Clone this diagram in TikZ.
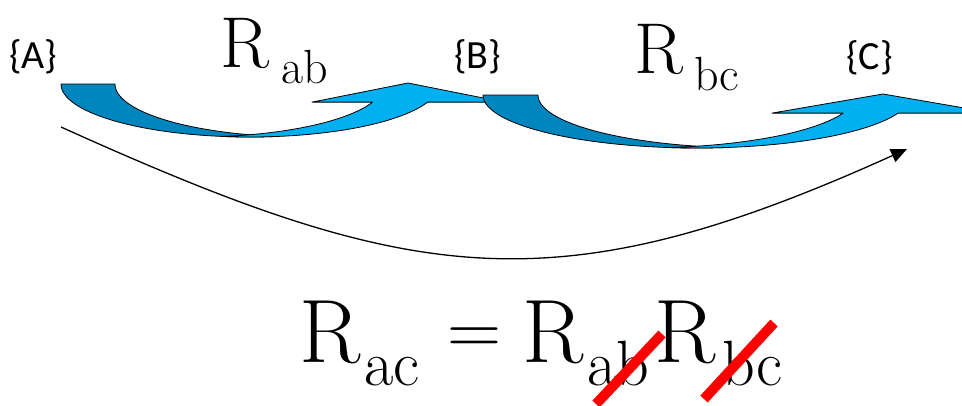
\documentclass[tikz,border=0pt]{standalone}
\usepackage{fontspec}
\newfontfamily\calfont{Carlito}
\newcommand\timesfont{\rmfamily\addfontfeature{FakeBold=1.2}}
\usetikzlibrary{arrows.meta}
\definecolor{darkblue}{RGB}{0,134,190}
\definecolor{lightblue}{RGB}{0,176,240}
\begin{document}
\begin{tikzpicture}[x=1pt,y=-1pt,
  setlbl/.style={font=\calfont\fontsize{40}{42}\selectfont, anchor=base west, inner sep=0pt},
  bigR/.style={font=\fontsize{72}{72}\selectfont\timesfont, anchor=base west, inner sep=0pt},
  subR/.style={font=\fontsize{48}{48}\selectfont\timesfont, anchor=base west, inner sep=0pt},
  eqR/.style={font=\fontsize{90}{90}\selectfont\timesfont, anchor=base west, inner sep=0pt},
  eqsign/.style={font=\fontsize{75}{75}\selectfont\timesfont, anchor=base west, inner sep=0pt},
  eqsub/.style={font=\fontsize{64}{64}\selectfont\timesfont, anchor=base west, inner sep=0pt},
  band/.style={draw=black, line width=0.8pt, line join=round},
  strike/.style={draw=red, line width=10pt},
  link/.style={draw=black, line width=1.3pt, -{Triangle[length=16pt,width=14pt]}}]
\useasboundingbox (0,0) rectangle (962,405);

% set labels
\node[setlbl] (A) at (9,68) {\{A\}};
\node[setlbl] (B) at (454,68) {\{B\}};
\node[setlbl] (C) at (846,69) {\{C\}};

% relation labels
\node[bigR] (Rab) at (220,67) {R};
\node[subR] (Rabs) at (281,83) {ab};
\node[bigR] (Rbc) at (634,73) {R};
\node[subR] (Rbcs) at (694,90) {bc};

% first curved arrow (A -> B)
\draw[band, fill=darkblue] (61,84) -- (115,84)
  -- plot[domain=180:98.2, samples=50] ({304+189*cos(\x)},{84+53*sin(\x)})
  -- plot[domain=81.8:180, samples=50] ({250+189*cos(\x)},{84+53*sin(\x)}) -- cycle;
\draw[band, fill=lightblue]
  plot[domain=98.4:20, samples=50] ({250+189*cos(\x)},{84+53*sin(\x)})
  -- (504,102.1) -- (408,83) -- (312,102.1) -- (372.6,102.1)
  -- plot[domain=20:81.6, samples=50] ({195+189*cos(\x)},{84+53*sin(\x)}) -- cycle;

% second curved arrow (B -> C)
\draw[band, fill=darkblue] (483,95) -- (538,95)
  -- plot[domain=180:97.4, samples=50] ({752+214*cos(\x)},{95+53*sin(\x)})
  -- plot[domain=82.6:180, samples=50] ({697+214*cos(\x)},{95+53*sin(\x)}) -- cycle;
\draw[band, fill=lightblue]
  plot[domain=97.4:20, samples=50] ({697+214*cos(\x)},{95+53*sin(\x)})
  -- (994,113.1) -- (883,94) -- (772,113.1) -- (843.1,113.1)
  -- plot[domain=20:82.6, samples=50] ({642+214*cos(\x)},{95+53*sin(\x)}) -- cycle;

% composed relation arrow
\coordinate (p) at (61,127);
\coordinate (q) at (907,149);
\draw[link] (p) .. controls (413,286) and (555,308) .. (q);

% equation
\node[eqR] (R1) at (299,362) {R};
\node[eqsub] (s1) at (364,385) {ac};
\node[eqsign] (eq) at (447,354) {=};
\node[eqR] (R2) at (522,362) {R};
\node[eqsub] (s2) at (587,385) {ab};
\node[eqR] (R3) at (654,362) {R};
\node[eqsub] (s3) at (722,385) {bc};

% cancellation strokes
\coordinate (x1) at (596,404);
\coordinate (y1) at (662,334);
\coordinate (x2) at (704,399);
\coordinate (y2) at (774,323);
\draw[strike] (x1) -- (y1);
\draw[strike] (x2) -- (y2);
\end{tikzpicture}
\end{document}
